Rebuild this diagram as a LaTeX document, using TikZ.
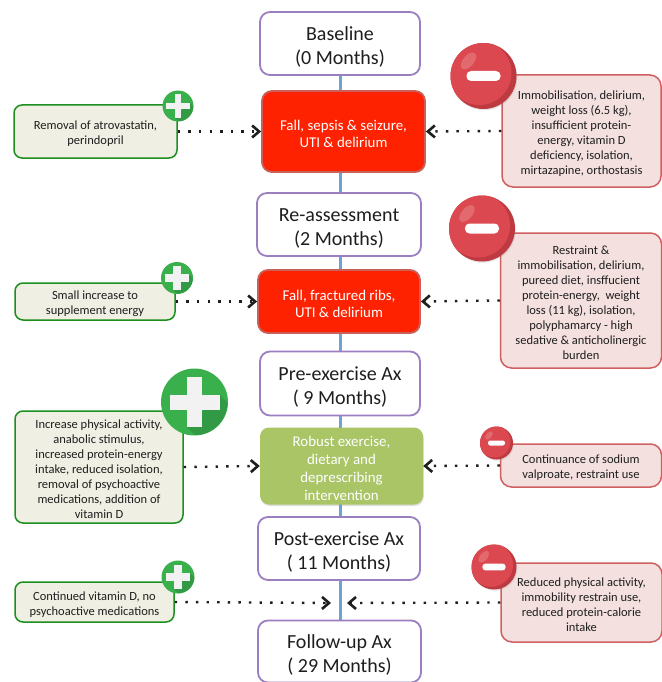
\documentclass[tikz,border=0pt]{standalone}
\usepackage{fontspec}
\setmainfont{Carlito}
\usetikzlibrary{arrows.meta,shadows}
\definecolor{purp}{HTML}{9C7FC0}
\definecolor{lnblue}{HTML}{6FA2D2}
\definecolor{redf}{HTML}{FF2200}
\definecolor{redb}{HTML}{C8615A}
\definecolor{grnf}{HTML}{A9C566}
\definecolor{goodf}{HTML}{EFEFE3}
\definecolor{goodb}{HTML}{1C8F1F}
\definecolor{badf}{HTML}{F3E0DF}
\definecolor{badb}{HTML}{CF5F60}
\definecolor{plusl}{HTML}{3AB04C}
\definecolor{plusd}{HTML}{329A44}
\definecolor{minl}{HTML}{DC484F}
\definecolor{mind}{HTML}{BE3A40}
\definecolor{txt}{HTML}{1E1E1E}
\tikzset{
  x=1pt,y=-1pt,
  lift/.store in=\liftamt,
  stage/.style={draw=purp,line width=1.8pt,fill=white,rounded corners=10pt,align=center,
    font=\fontsize{20}{24}\selectfont,text=txt,inner sep=0pt,lift=21pt},
  event/.style={draw=redb,line width=1.8pt,fill=redf,rounded corners=10pt,align=center,
    font=\fontsize{14.9}{17.7}\selectfont,text=white,inner sep=0pt,lift=15pt,
    drop shadow={opacity=.2,shadow xshift=.8pt,shadow yshift=-1pt}},
  interv/.style={fill=grnf,rounded corners=9pt,align=center,
    font=\fontsize{14.9}{17.7}\selectfont,text=white,inner sep=0pt,lift=15pt,
    drop shadow={opacity=.25,shadow xshift=.8pt,shadow yshift=-1.5pt}},
  good/.style={draw=goodb,line width=1.5pt,fill=goodf,rounded corners=8pt,align=center,
    font=\fontsize{12.5}{15}\selectfont,text=txt,inner sep=0pt,lift=14pt},
  bad/.style={draw=badb,line width=1.5pt,fill=badf,rounded corners=11pt,align=center,
    font=\fontsize{12.5}{15}\selectfont,text=txt,inner sep=0pt,lift=14pt},
  flow/.style={line width=2.4pt,dash pattern=on 2.4pt off 8.2pt,black!88,
    -{Straight Barb[length=7pt,width=12pt,line width=2.6pt]}},
  spine/.style={draw=lnblue,line width=3pt}
}
\newcommand{\stagebox}[6][stage]{\node[#1,minimum width=#4pt,minimum height=#5pt] (#2) at (#3) {\rule{0pt}{\liftamt}#6};}
\newcommand{\plusbadge}[4]{%
  \node[circle,fill=plusl,minimum size=#4*2pt,inner sep=0pt] (#1) at (#2,#3) {};
  \begin{scope}[shift={(#2,#3)},scale=#4/33.5]
    \clip (0,0) circle (33);
    \fill[plusd] (25,-7.5) -- (70,37.5) -- (37.5,70) -- (-7.5,25) -- cycle;
    \fill[white!95!black] (-25,-7.5) rectangle (25,7.5);
    \fill[white!95!black] (-7.5,-25) rectangle (7.5,25);
  \end{scope}}
\newcommand{\minusbadge}[4]{%
  \node[circle,fill=mind,minimum size=#4*2pt,inner sep=0pt,
    drop shadow={opacity=.2,shadow xshift=.8pt,shadow yshift=-1.2pt}] (#1) at (#2,#3) {};
  \begin{scope}[shift={(#2,#3)},scale=#4/33]
    \clip (0,0) circle (33);
    \fill[minl] (-4,-3) circle (32);
    \fill[white,opacity=.18,rotate around={50:(-15,-15)}] (-15,-15) ellipse (10 and 5.5);
    \fill[white!95!badf,rounded corners=#4*4.5/33 pt] (-17,-5) rectangle (17,5);
  \end{scope}}
\begin{document}
\begin{tikzpicture}
\useasboundingbox (0,0) rectangle (661,682);
\fill[white] (0,0) rectangle (661,682);
% stages
\coordinate (spinetop) at (340,75);
\coordinate (spinebot) at (340,622);
\draw[spine] (spinetop) -- (spinebot);
\stagebox{base}{340,43.5}{160}{63}{Baseline\\(0 Months)}
\stagebox{reas}{339,224.5}{164}{63}{Re-assessment\\(2 Months)}
\stagebox{pre}{340,383.5}{160}{64}{Pre-exercise Ax\\( 9 Months)}
\stagebox{post}{339,548.5}{162}{63}{Post-exercise Ax\\( 11 Months)}
\stagebox{follow}{339.5,651.5}{163}{62}{Follow-up Ax\\( 29 Months)}
% events
\stagebox[event]{ev1}{343.5,131.5}{163}{81}{Fall, sepsis \& seizure,\\UTI \& delirium}
\stagebox[event]{ev2}{339,301.5}{162}{63}{Fall, fractured ribs,\\UTI \& delirium}
\stagebox[interv]{ev3}{341.5,466}{163}{77}{Robust exercise,\\dietary and\\deprescribing\\intervention}
% factor boxes
\stagebox[good]{g1}{95.5,131.5}{163}{53}{Removal of atrovastatin,\\perindopril}
\stagebox[good]{g2}{95,301.5}{160}{37}{Small increase to\\supplement energy}
\stagebox[good]{g3}{99,467}{168}{112}{Increase physical activity,\\anabolic stimulus,\\increased protein-energy\\intake, reduced isolation,\\removal of psychoactive\\medications, addition of\\vitamin D}
\stagebox[good]{g4}{94.5,602}{159}{40}{Continued vitamin D, no\\psychoactive medications}
\stagebox[bad]{b1}{581.5,131}{159}{112}{Immobilisation, delirium,\\weight loss (6.5 kg),\\insufficient protein-\\energy, vitamin D\\deficiency, isolation,\\mirtazapine, orthostasis}
\stagebox[bad]{b2}{581,300.5}{161}{135}{Restraint \&\\immobilisation, delirium,\\pureed diet, insffucient\\protein-energy,~ weight\\loss (11 kg), isolation,\\polyphamarcy - high\\sedative \& anticholinergic\\burden}
\stagebox[bad]{b3}{581,465.5}{161}{43}{Continuance of sodium\\valproate, restraint use}
\stagebox[bad]{b4}{581.5,602.5}{161}{79}{Reduced physical activity,\\immobility restrain use,\\reduced protein-calorie\\intake}
% badges
\plusbadge{p1}{178}{106}{15.5}
\plusbadge{p2}{177}{278}{16}
\plusbadge{p3}{194.5}{402}{33.5}
\plusbadge{p4}{178}{577}{16.5}
\minusbadge{m1}{483.5}{76}{33}
\minusbadge{m2}{482}{228.5}{33}
\minusbadge{m3}{496.5}{443}{16.5}
\minusbadge{m4}{494}{567}{22.5}
% connectors
\coordinate (spinel) at (331,603);
\coordinate (spiner) at (347,603);
\draw[flow] (g1.east) -- (ev1.west);
\draw[flow] (g2.east) -- (ev2.west);
\draw[flow] (g3.east) -- (ev3.west);
\draw[flow] (g4.east) -- (spinel);
\draw[flow] (b1.west) -- (ev1.east);
\draw[flow] (b2.west) -- (ev2.east);
\draw[flow] (b3.west) -- (ev3.east);
\draw[flow] (b4.west) -- (spiner);
\end{tikzpicture}
\end{document}
